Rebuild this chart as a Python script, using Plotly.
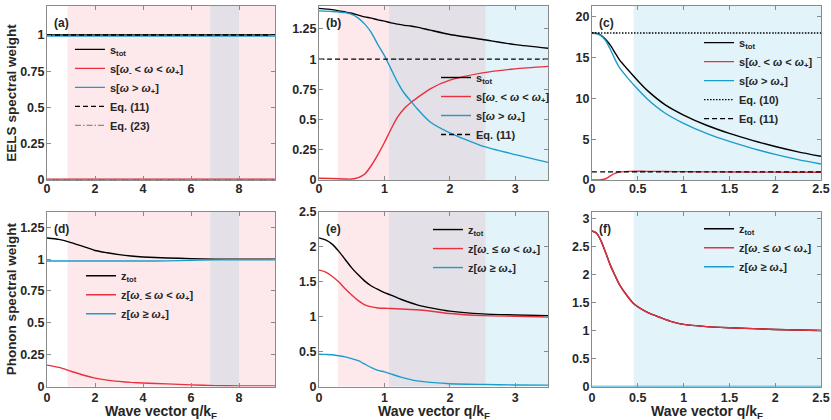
import plotly.graph_objects as go

# ---------------- data ----------------
# (a) EELS spectral weight, large q range
q_a = [0, 9.5]
s_tot_a = [1.0, 1.0]
s_mid_a = [0.005, 0.005]
s_plus_a = [0.993, 0.993]
eq11_a = [1.0, 1.0]
eq23_a = [0.003, 0.003]

# (b)
q_b = [0, 0.2, 0.4, 0.5, 0.6, 0.7, 0.8, 0.9, 1.0, 1.1, 1.2, 1.3, 1.4, 1.5, 1.7, 2.0, 2.5, 3.0, 3.5]
s_tot_b = [1.42, 1.41, 1.39, 1.38, 1.365, 1.35, 1.34, 1.325, 1.315, 1.30, 1.29, 1.28, 1.275, 1.265,
           1.24, 1.204, 1.163, 1.12, 1.09]
s_mid_b = [0.015, 0.012, 0.008, 0.008, 0.02, 0.05, 0.12, 0.21, 0.31, 0.42, 0.52, 0.59, 0.64, 0.68,
           0.755, 0.826, 0.887, 0.92, 0.94]
s_plus_b = [1.40, 1.395, 1.385, 1.37, 1.34, 1.29, 1.22, 1.12, 1.03, 0.92, 0.81, 0.72, 0.655, 0.59,
            0.48, 0.39, 0.28, 0.21, 0.146]
eq11_b = [1.0] * len(q_b)

# (c)
q_c = [0, 0.05, 0.1, 0.15, 0.2, 0.25, 0.3, 0.4, 0.5, 0.6, 0.8, 1.0, 1.25, 1.5, 1.75, 2.0, 2.25, 2.5]
s_tot_c = [18.0, 17.95, 17.7, 17.2, 16.5, 15.6, 14.7, 13.4, 12.15, 11.0, 9.2, 7.95, 6.7, 5.7,
           4.85, 4.1, 3.45, 2.9]
s_mid_c = [0.0, 0.0, 0.03, 0.15, 0.5, 0.8, 0.97, 1.06, 1.07, 1.06, 1.04, 1.02, 1.0, 0.98,
           0.97, 0.96, 0.95, 0.95]
s_plus_c = [17.95, 17.9, 17.65, 17.05, 16.0, 14.8, 13.75, 12.35, 11.1, 9.95, 8.17, 6.93, 5.7, 4.72,
            3.88, 3.14, 2.5, 1.96]
eq10_c = [18.0] * len(q_c)
eq11_c = [1.0] * len(q_c)

# (d) phonon spectral weight
q_d = [0, 0.5, 1, 1.5, 2, 2.5, 3, 3.5, 4, 5, 6, 7, 8, 9.5]
z_tot_d = [1.166, 1.155, 1.13, 1.10, 1.068, 1.05, 1.035, 1.024, 1.017, 1.009, 1.004, 1.0, 1.0, 1.0]
z_mid_d = [0.168, 0.15, 0.12, 0.09, 0.066, 0.05, 0.04, 0.032, 0.027, 0.021, 0.013, 0.007, 0.005, 0.005]
z_plus_d = [0.985, 0.985, 0.985, 0.985, 0.985, 0.985, 0.985, 0.985, 0.985, 0.986, 0.991, 0.994, 0.995, 0.995]

# (e)
q_e = [0, 0.1, 0.2, 0.3, 0.4, 0.5, 0.6, 0.7, 0.8, 0.9, 1.0, 1.1, 1.25, 1.5, 1.75, 2.0, 2.5, 3.0, 3.5]
z_tot_e = [2.13, 2.10, 2.04, 1.94, 1.82, 1.70, 1.60, 1.51, 1.44, 1.39, 1.345, 1.31, 1.25, 1.17,
           1.12, 1.08, 1.04, 1.025, 1.015]
z_mid_e = [1.667, 1.64, 1.58, 1.50, 1.40, 1.31, 1.23, 1.17, 1.14, 1.125, 1.12, 1.118, 1.11, 1.10,
           1.075, 1.045, 1.015, 1.006, 0.996]
z_plus_e = [0.463, 0.46, 0.455, 0.44, 0.425, 0.40, 0.37, 0.32, 0.27, 0.23, 0.21, 0.18, 0.135, 0.08,
            0.055, 0.04, 0.03, 0.022, 0.02]

# (f)
q_f = [0, 0.05, 0.1, 0.15, 0.2, 0.25, 0.3, 0.375, 0.45, 0.6, 0.75, 0.85, 1.0, 1.25, 1.5, 2.0, 2.5]
z_tot_f = [2.78, 2.74, 2.6, 2.39, 2.17, 1.99, 1.82, 1.64, 1.49, 1.33, 1.23, 1.17, 1.11, 1.07, 1.05, 1.02, 1.0]
z_mid_f = [2.78, 2.74, 2.6, 2.39, 2.17, 1.99, 1.82, 1.64, 1.49, 1.33, 1.23, 1.17, 1.11, 1.07, 1.05, 1.02, 1.0]
z_plus_f = [0.0] * len(q_f)

# shaded regime boundaries (q/kF)
edges_ad = [0.86, 6.8, 8.0, 9.5]
edges_be = [0.29, 1.07, 2.55, 3.5]
edges_cf = [0.455, 2.5]

panel_labels = ["(a)", "(b)", "(c)", "(d)", "(e)", "(f)"]

# ---------------- styling ----------------
BLACK = "#000000"
RED = "#e8303f"
BLUE = "#1a9dcb"
PINK = "#fde8eb"
GRAY = "#e3e0e7"
LBLUE = "#e2f3f9"
FONT = "Liberation Sans, Arial, sans-serif"
TXT = "#262626"

S_TOT = "s<sub>tot</sub>"
S_MID = "s[<i>ω</i><sub>-</sub> &lt; <i>ω</i> &lt; <i>ω</i><sub>+</sub>]"
S_PLUS = "s[<i>ω</i> &gt; <i>ω</i><sub>+</sub>]"
Z_TOT = "z<sub>tot</sub>"
Z_MID = "z[<i>ω</i><sub>-</sub> ≤ <i>ω</i> &lt; <i>ω</i><sub>+</sub>]"
Z_PLUS = "z[<i>ω</i> ≥ <i>ω</i><sub>+</sub>]"

fig = go.Figure()


def line(x, y, name, color, panel, dash="solid"):
    sfx = "" if panel == 1 else str(panel)
    fig.add_trace(go.Scatter(
        x=x, y=y, name=name, mode="lines",
        line=dict(color=color, width=1.4, dash=dash, shape="spline", smoothing=0.6),
        xaxis="x" + sfx, yaxis="y" + sfx, legend="legend" + sfx,
    ))


line(q_a, s_tot_a, S_TOT, BLACK, 1)
line(q_a, s_mid_a, S_MID, RED, 1)
line(q_a, s_plus_a, S_PLUS, BLUE, 1)
line(q_a, eq11_a, "Eq. (11)", BLACK, 1, "5px,3px")
line(q_a, eq23_a, "Eq. (23)", "#8c8c8c", 1, "6px,2px,1.5px,2px")

line(q_b, s_tot_b, S_TOT, BLACK, 2)
line(q_b, s_mid_b, S_MID, RED, 2)
line(q_b, s_plus_b, S_PLUS, BLUE, 2)
line(q_b, eq11_b, "Eq. (11)", BLACK, 2, "5px,3px")

line(q_c, s_tot_c, S_TOT, BLACK, 3)
line(q_c, s_mid_c, S_MID, RED, 3)
line(q_c, s_plus_c, S_PLUS, BLUE, 3)
line(q_c, eq10_c, "Eq. (10)", BLACK, 3, "1.5px,1.5px")
line(q_c, eq11_c, "Eq. (11)", BLACK, 3, "5px,3px")

line(q_d, z_tot_d, Z_TOT, BLACK, 4)
line(q_d, z_mid_d, Z_MID, RED, 4)
line(q_d, z_plus_d, Z_PLUS, BLUE, 4)

line(q_e, z_tot_e, Z_TOT, BLACK, 5)
line(q_e, z_mid_e, Z_MID, RED, 5)
line(q_e, z_plus_e, Z_PLUS, BLUE, 5)

line(q_f, z_tot_f, Z_TOT, BLACK, 6)
line(q_f, z_mid_f, Z_MID, RED, 6)
line(q_f, z_plus_f, Z_PLUS, BLUE, 6)

# shaded regimes
band_colors_ad = [PINK, GRAY, PINK]
band_colors_be = [PINK, GRAY, LBLUE]
band_colors_cf = [LBLUE]
for panels, edges, cols in [((1, 4), edges_ad, band_colors_ad),
                            ((2, 5), edges_be, band_colors_be),
                            ((3, 6), edges_cf, band_colors_cf)]:
    for p in panels:
        sfx = "" if p == 1 else str(p)
        for x0, x1, c in zip(edges[:-1], edges[1:], cols):
            fig.add_shape(type="rect", xref="x" + sfx, yref="y" + sfx + " domain",
                          x0=x0, x1=x1, y0=0, y1=1, fillcolor=c, line_width=0, layer="below")

# ---------------- axes / layout ----------------
W, H = 831, 420
xdom = [[47 / W, 275 / W], [319 / W, 548 / W], [592 / W, 821 / W]]
ydom = [[1 - 180 / H, 1 - 6 / H], [1 - 386.5 / H, 1 - 212 / H]]
xranges = [[0, 9.5], [0, 3.5], [0, 2.5]]
xdticks = [2, 1, 0.5]
yranges = [[0, 1.2], [0, 1.44], [0, 21.3], [0, 1.37], [0, 2.5], [0, 3.12]]
ydticks = [0.25, 0.25, 5, 0.25, 0.5, 0.5]
legend_pos = [(0.0842, 0.917), (0.5247, 0.850), (0.8412, 0.933),
              (0.0975, 0.378), (0.515, 0.488), (0.8412, 0.490)]

axis_style = dict(showline=True, linecolor="#8a8a8a", linewidth=1, mirror="ticks",
                  ticks="inside", ticklen=4, tickcolor="#8a8a8a", showgrid=False,
                  zeroline=False, automargin=False,
                  tickfont=dict(family=FONT, size=12.5, color=TXT, weight="bold"))

lay = {}
for i in range(6):
    p = i + 1
    sfx = "" if p == 1 else str(p)
    col, row = i % 3, i // 3
    xa = dict(axis_style, domain=xdom[col], range=xranges[col], dtick=xdticks[col], tick0=0,
              anchor="y" + sfx, ticklabelstandoff=-3 if row == 0 else -1)
    ya = dict(axis_style, domain=ydom[row], range=yranges[i], dtick=ydticks[i], tick0=0,
              anchor="x" + sfx, ticklabelstandoff=-1)
    if col == 0:
        ya["title"] = dict(text="EELS spectral weight" if row == 0 else "Phonon spectral weight",
                           standoff=0, font=dict(family=FONT, size=13.5, color=TXT, weight="bold"))
    lay["xaxis" + sfx] = xa
    lay["yaxis" + sfx] = ya
    lx, ly = legend_pos[i]
    lay["legend" + sfx] = dict(x=lx, y=ly, xanchor="left", yanchor="top", bgcolor="rgba(0,0,0,0)",
                               borderwidth=0, itemwidth=30, tracegroupgap=0,
                               font=dict(family=FONT, size=11, color=TXT, weight="bold"))
    fig.add_annotation(text="<b>" + panel_labels[i] + "</b>", xref="x" + sfx + " domain",
                       yref="y" + sfx + " domain", x=0.02, y=0.955, xanchor="left", yanchor="top",
                       showarrow=False, font=dict(family=FONT, size=12, color=TXT))
    if row == 1:
        # x title sits tight under the tick labels, as in the original
        fig.add_annotation(text="<b>Wave vector q/k<sub>F</sub></b>", xref="x" + sfx + " domain",
                           yref="paper", x=0.5, y=1 - 401 / H, xanchor="center", yanchor="top",
                           showarrow=False, font=dict(family=FONT, size=14, color=TXT))

fig.update_layout(
    **lay,
    width=W, height=H, template="none",
    margin=dict(l=0, r=0, t=0, b=0),
    paper_bgcolor="white", plot_bgcolor="white",
    font=dict(family=FONT, size=12, color=TXT, weight="bold"),
)

# drop the default page margin so the figure sits at the window's corner
fig.write_html("out.html", config={"displayModeBar": False},
               post_script="document.body.style.margin='0px';")
